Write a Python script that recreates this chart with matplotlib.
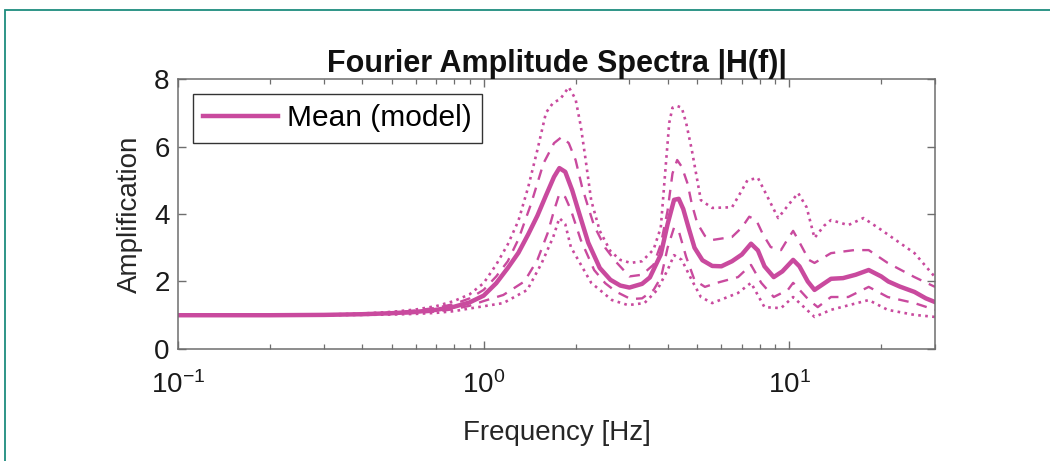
import matplotlib
matplotlib.use("Agg")
import matplotlib.pyplot as plt
from matplotlib.patches import Rectangle

plt.rcParams['font.family'] = ['Liberation Sans', 'DejaVu Sans']
plt.rcParams['mathtext.fontset'] = 'custom'
plt.rcParams['mathtext.rm'] = 'Liberation Sans'
plt.rcParams['mathtext.it'] = 'Liberation Sans:italic'
plt.rcParams['mathtext.bf'] = 'Liberation Sans:bold'

# ---------------- data ----------------
f_mean = [0.1, 0.2, 0.3, 0.4, 0.5, 0.6, 0.7, 0.8, 0.9, 1.0, 1.1, 1.2, 1.3, 1.4, 1.5, 1.6, 1.7, 1.77,
          1.85, 1.95, 2.05, 2.2, 2.4, 2.6, 2.8, 3.0, 3.3, 3.5, 3.8, 4.0, 4.2, 4.35, 4.5, 4.7, 4.9, 5.2,
          5.6, 6.0, 6.5, 7.0, 7.5, 7.9, 8.3, 8.9, 9.5, 10.3, 10.8, 11.5, 12.1, 12.8, 13.7, 15.0, 16.5,
          18.2, 20.0, 21.1, 23.0, 25.7, 28.0, 30.0]
mean = [1.0, 1.0, 1.01, 1.03, 1.06, 1.1, 1.16, 1.25, 1.38, 1.58, 1.95, 2.4, 2.85, 3.4, 3.95, 4.55, 5.1, 5.36,
        5.25, 4.7, 4.05, 3.15, 2.4, 2.05, 1.88, 1.82, 1.93, 2.12, 2.8, 3.7, 4.42, 4.45, 4.15, 3.55, 3.0, 2.63,
        2.46, 2.45, 2.6, 2.8, 3.12, 2.92, 2.45, 2.13, 2.3, 2.64, 2.45, 2.0, 1.75, 1.9, 2.08, 2.1, 2.2,
        2.34, 2.15, 2.0, 1.85, 1.69, 1.5, 1.39]

f_up1 = [0.1, 0.2, 0.3, 0.4, 0.5, 0.6, 0.7, 0.8, 0.9, 1.0, 1.1, 1.2, 1.3, 1.43, 1.57, 1.7, 1.8, 1.9, 2.0,
         2.1, 2.2, 2.3, 2.5, 2.7, 3.0, 3.3, 3.6, 3.8, 4.0, 4.15, 4.3, 4.45, 4.65, 4.8, 5.0, 5.3, 5.6, 6.5,
         7.0, 7.4, 7.8, 8.2, 8.7, 9.4, 9.8, 10.3, 10.6, 11.6, 12.1, 13.7, 16.3, 18.2, 21.0, 25.7, 30.0]
up1 = [1.0, 1.0, 1.01, 1.04, 1.08, 1.14, 1.22, 1.33, 1.5, 1.75, 2.15, 2.6, 3.25, 4.3, 5.5, 6.1, 6.28, 6.1, 5.6,
       4.8, 4.2, 3.65, 3.0, 2.6, 2.15, 2.2, 2.5, 3.1, 4.1, 5.2, 5.6, 5.4, 4.9, 4.3, 3.73, 3.35, 3.23, 3.32,
       3.6, 3.92, 3.82, 3.4, 3.02, 2.93, 3.2, 3.5, 3.3, 2.64, 2.55, 2.84, 2.93, 2.93, 2.55, 2.13, 1.84]

f_lo1 = [0.1, 0.2, 0.3, 0.4, 0.5, 0.6, 0.7, 0.8, 0.9, 1.0, 1.16, 1.36, 1.5, 1.62, 1.7, 1.77, 1.85, 1.93, 2.08,
         2.3, 2.5, 2.71, 3.03, 3.3, 3.6, 3.81, 4.0, 4.2, 4.35, 4.6, 4.9, 5.3, 5.8, 6.8, 7.5, 8.1, 8.9, 9.9,
         10.3, 11.6, 12.4, 13.7, 15.6, 18.2, 21.0, 25.7, 30.0]
lo1 = [1.0, 1.0, 1.01, 1.02, 1.04, 1.07, 1.11, 1.18, 1.28, 1.42, 1.6, 2.0, 2.64, 3.43, 4.1, 4.6, 4.5, 4.12, 3.23,
       2.34, 1.95, 1.7, 1.48, 1.5, 1.75, 2.13, 3.0, 3.6, 3.5, 2.73, 2.04, 1.84, 1.96, 2.13, 2.49, 1.96, 1.54,
       1.75, 1.96, 1.45, 1.24, 1.54, 1.54, 1.84, 1.54, 1.36, 1.16]

f_up2 = [0.1, 0.2, 0.3, 0.4, 0.5, 0.6, 0.7, 0.8, 0.9, 1.0, 1.1, 1.2, 1.3, 1.4, 1.5, 1.6, 1.69, 1.78, 1.9, 2.0,
         2.08, 2.15, 2.25, 2.4, 2.6, 2.8, 3.03, 3.3, 3.6, 3.8, 3.95, 4.05, 4.15, 4.3, 4.45, 4.6, 4.8, 5.14,
         5.6, 6.5, 7.0, 7.3, 7.9, 8.5, 9.2, 10.0, 10.7, 11.4, 12.1, 13.0, 13.7, 15.6, 17.5, 20.0, 25.7, 30.0]
up2 = [1.0, 1.0, 1.02, 1.05, 1.1, 1.17, 1.27, 1.42, 1.62, 1.95, 2.5, 3.1, 3.8, 4.8, 5.9, 7.0, 7.3, 7.4, 7.76, 7.4,
       6.6, 5.7, 4.4, 3.5, 2.9, 2.64, 2.55, 2.6, 2.95, 3.6, 5.5, 6.7, 7.15, 7.2, 7.15, 6.7, 5.9, 4.41,
       4.18, 4.2, 4.7, 5.0, 5.07, 4.5, 3.88, 4.3, 4.62, 4.2, 3.29, 3.65, 3.82, 3.67, 3.88, 3.53, 2.84, 2.13]

f_lo2 = [0.1, 0.2, 0.3, 0.4, 0.5, 0.6, 0.7, 0.8, 0.9, 0.96, 1.16, 1.39, 1.55, 1.69, 1.77, 1.85, 1.93, 2.25,
         2.63, 2.97, 3.36, 3.7, 4.0, 4.2, 4.45, 4.8, 5.14, 5.6, 6.8, 7.5, 8.3, 9.4, 10.3, 12.1, 13.7, 18.2,
         21.0, 25.7, 30.0]
lo2 = [1.0, 1.0, 1.0, 1.01, 1.02, 1.04, 1.07, 1.12, 1.2, 1.24, 1.36, 1.75, 2.55, 3.32, 3.88, 3.7, 3.02, 1.96,
       1.45, 1.3, 1.36, 1.75, 2.34, 2.78, 2.64, 2.04, 1.54, 1.36, 1.66, 1.96, 1.24, 1.21, 1.54, 0.95, 1.16,
       1.45, 1.16, 1.01, 0.95]

title = "Fourier Amplitude Spectra |H(f)|"
xlabel = "Frequency [Hz]"
ylabel = "Amplification"
legend_label = "Mean (model)"
yticks = [0, 2, 4, 6, 8]

# ---------------- styling ----------------
col = '#c94a9e'
axcol = '#6e6e6e'

fig = plt.figure(figsize=(10.5, 4.61), dpi=100)
ax = fig.add_axes([0.1695, 0.243, 0.721, 0.5856])

ax.plot(f_up2, up2, ':', color=col, lw=1.9)
ax.plot(f_lo2, lo2, ':', color=col, lw=1.9)
ax.plot(f_up1, up1, '--', color=col, lw=1.7, dashes=(4.5, 3.5))
ax.plot(f_lo1, lo1, '--', color=col, lw=1.7, dashes=(4.5, 3.5))
ax.plot(f_mean, mean, '-', color=col, lw=3.2, label=legend_label)

ax.set_xscale('log')
ax.set_xlim(0.1, 30)
ax.set_ylim(0, 8)
ax.set_yticks(yticks)

for s in ax.spines.values():
    s.set_color(axcol)
    s.set_linewidth(1.1)
ax.tick_params(which='both', direction='in', top=True, right=True, color=axcol,
               labelsize=20, labelcolor='#1a1a1a')
ax.tick_params(axis='y', pad=6)
ax.tick_params(axis='x', pad=16)
ax.tick_params(which='major', length=5.5, width=1.0)
ax.tick_params(which='minor', length=3.5, width=0.9)

ax.set_title(title, fontsize=22, fontweight='bold', pad=5, color='#111111')
ax.set_xlabel(xlabel, fontsize=20, color='#262626', labelpad=15)
ax.set_ylabel(ylabel, fontsize=20, color='#262626', labelpad=8)

leg = ax.legend(loc='upper left', fontsize=21.5, handlelength=2.5, handletextpad=0.3,
                borderpad=0.35, borderaxespad=0.5, fancybox=False, framealpha=1)
leg.get_frame().set_edgecolor('#333333')
leg.get_frame().set_linewidth(1.0)

# teal page border (top and left visible)
fig.add_artist(Rectangle((5 / 1050, -0.5), 2.0, 1.5 - 10 / 461, transform=fig.transFigure,
                         fill=False, edgecolor='#1e8c7e', lw=1.3))

fig.savefig('out.png', dpi=100)
